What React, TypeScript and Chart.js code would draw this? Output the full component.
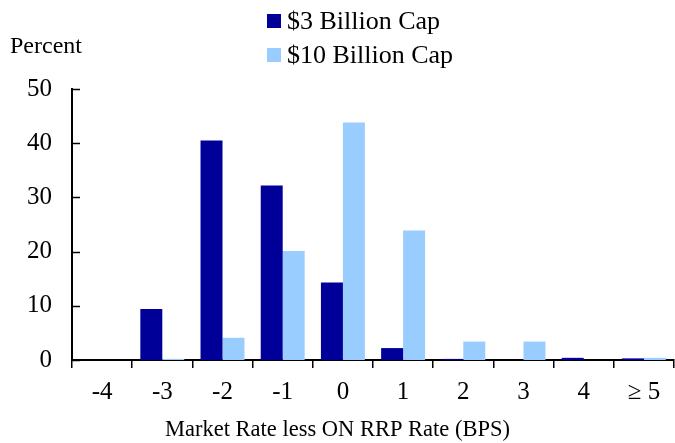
import { useEffect, useRef } from 'react';
import { Chart, registerables } from 'chart.js';
Chart.register(...registerables);

const categories = ['-4', '-3', '-2', '-1', '0', '1', '2', '3', '4', '≥ 5'];
const cap3Values = [0, 9.4, 40.5, 32.2, 14.3, 2.2, 0.2, 0, 0.4, 0.3];
const cap10Values = [0, 0.2, 4.1, 20.1, 43.8, 23.9, 3.4, 3.4, 0, 0.4];
const seriesLabels = ['$3 Billion Cap', '$10 Billion Cap'];
const seriesColors = ['#000099', '#99CCFF'];
const yTickValues = [0, 10, 20, 30, 40, 50];
const yAxisLabel = 'Percent';
const xAxisLabel = 'Market Rate less ON RRP Rate (BPS)';

const FONT = '"Liberation Serif", "Times New Roman", serif';

const overlayPlugin = {
  id: 'overlay',
  afterDraw(chart: any) {
    const { ctx, chartArea } = chart;
    const y = chart.scales.y;
    ctx.save();
    // inward y tick marks
    ctx.strokeStyle = '#000';
    ctx.lineWidth = 1.5;
    yTickValues.forEach((v) => {
      const py = Math.round(y.getPixelForValue(v)) + 0.5;
      ctx.beginPath();
      ctx.moveTo(chartArea.left, py);
      ctx.lineTo(chartArea.left + 8, py);
      ctx.stroke();
    });
    ctx.fillStyle = '#000';
    ctx.textBaseline = 'middle';
    // y label
    ctx.font = `24px ${FONT}`;
    ctx.textAlign = 'left';
    ctx.fillText(yAxisLabel, 10, 47);
    // x title
    ctx.font = `22.5px ${FONT}`;
    ctx.textAlign = 'center';
    ctx.fillText(xAxisLabel, chart.width / 2, 430);
    // legend
    ctx.font = `26px ${FONT}`;
    ctx.textAlign = 'left';
    chart.data.datasets.forEach((ds: any, i: number) => {
      const top = 14 + i * 34;
      ctx.fillStyle = ds.backgroundColor;
      ctx.fillRect(267, top, 14, 14);
      ctx.fillStyle = '#000';
      ctx.fillText(ds.label, 287, top + 8);
    });
    ctx.restore();
  },
};

export default function App() {
  const ref = useRef<HTMLCanvasElement>(null);
  useEffect(() => {
    document.body.style.margin = '0';
    const chart = new Chart(ref.current!, {
      type: 'bar',
      data: {
        labels: categories,
        datasets: [
          { label: seriesLabels[0], data: cap3Values, backgroundColor: seriesColors[0] },
          { label: seriesLabels[1], data: cap10Values, backgroundColor: seriesColors[1] },
        ],
      },
      options: {
        responsive: false,
        animation: false,
        layout: { padding: { top: 89, left: 0, right: 1, bottom: 0 } },
        datasets: { bar: { categoryPercentage: 0.73, barPercentage: 1 } },
        plugins: { legend: { display: false }, tooltip: { enabled: false } },
        scales: {
          x: {
            afterFit: (s: any) => { s.height = 83; },
            grid: { display: true, drawOnChartArea: false, drawTicks: true, tickLength: 8, color: '#000', lineWidth: 1.5, offset: true },
            border: { display: true, color: '#000', width: 2 },
            ticks: { color: '#000', font: { family: FONT, size: 25 }, padding: 9, maxRotation: 0, autoSkip: false },
            title: { display: false },
          },
          y: {
            min: 0,
            max: 50,
            afterFit: (s: any) => { s.width = 72; },
            afterBuildTicks: (s: any) => { s.ticks = yTickValues.map((v) => ({ value: v })); },
            grid: { display: false, drawTicks: false },
            border: { display: true, color: '#000', width: 2 },
            ticks: { color: '#000', font: { family: FONT, size: 25 }, padding: 20 },
          },
        },
      },
      plugins: [overlayPlugin],
    });
    return () => chart.destroy();
  }, []);
  return <canvas ref={ref} width={675} height={443} style={{ display: 'block' }} />;
}
